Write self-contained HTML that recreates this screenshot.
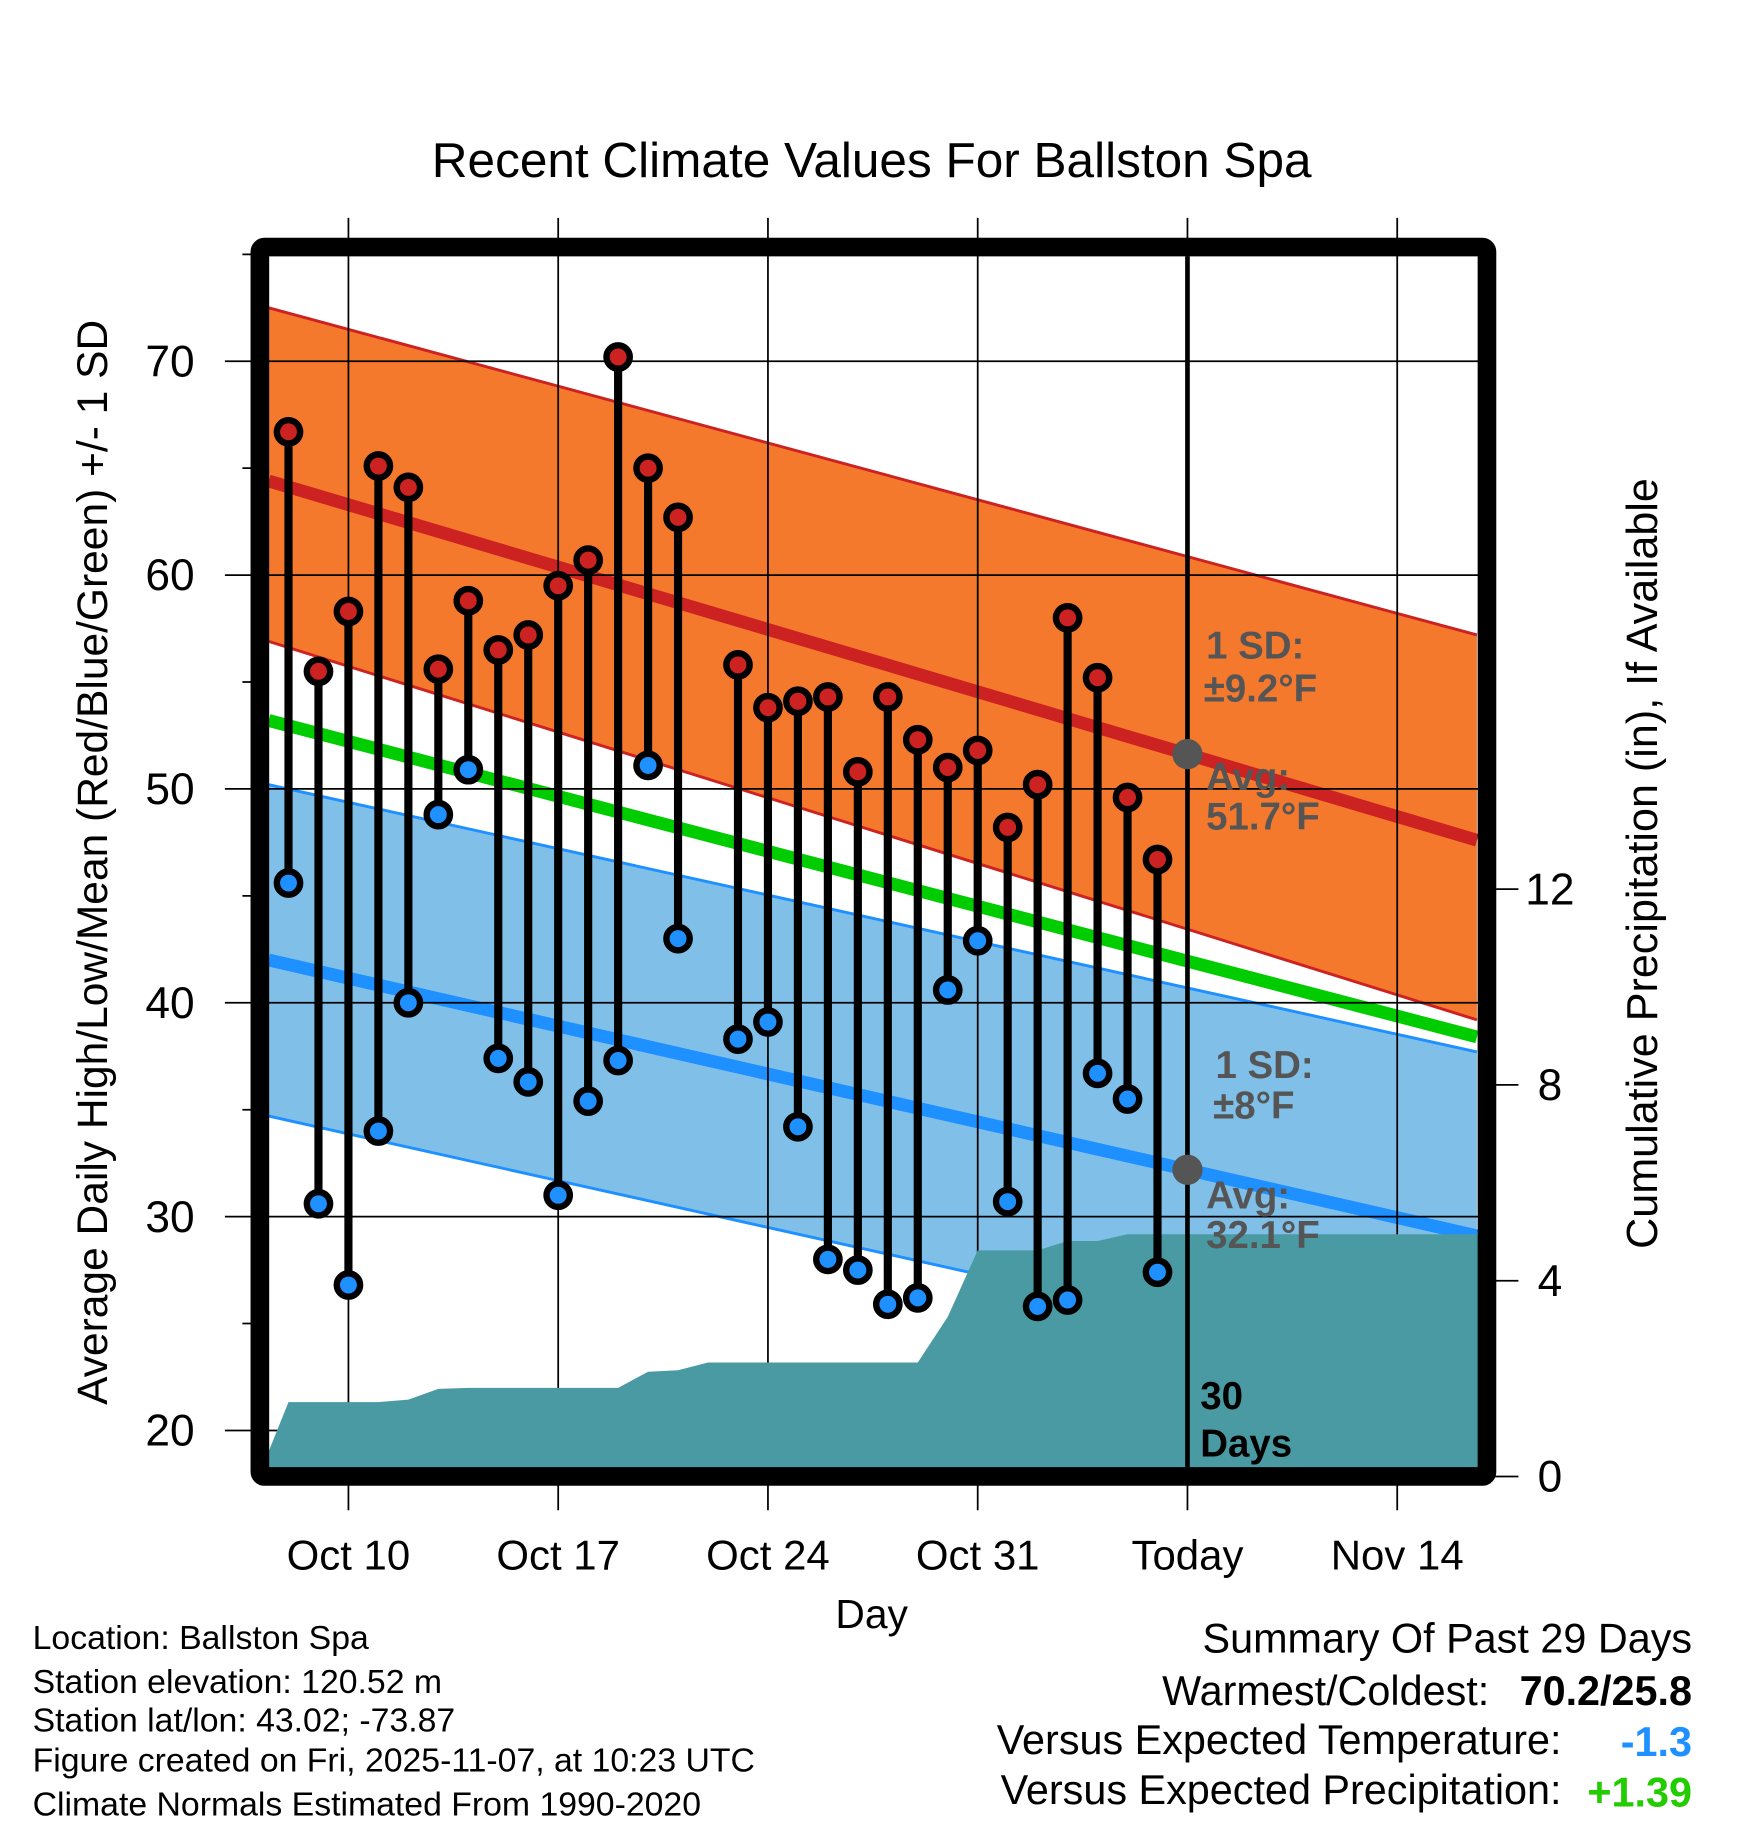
<!DOCTYPE html>
<html><head><meta charset="utf-8"><style>
html,body{margin:0;padding:0;background:#fff}
svg{display:block;font-family:"Liberation Sans",Arial,sans-serif}
</style></head><body>
<svg id="chart" width="1748" height="1828" viewBox="0 0 1500 1568.65" xmlns="http://www.w3.org/2000/svg">
<rect width="1500" height="1568.65" fill="#fff"/>
<text x="748" y="152" font-size="42.5" text-anchor="middle">Recent Climate Values For Ballston Spa</text>
<defs><clipPath id="plotclip"><rect x="223" y="212" width="1053" height="1055"/></clipPath></defs>
<g id="bands" clip-path="url(#plotclip)"></g>
<g id="grid"></g>
<g id="precip" clip-path="url(#plotclip)"></g>
<g id="marks"></g>
<g id="labels"></g>
<rect x="223" y="212" width="1053" height="1055" fill="none" stroke="#000" stroke-width="16" rx="4"/>
<g id="axes"></g>
<text transform="translate(92,740) rotate(-90)" font-size="36.5" text-anchor="middle">Average Daily High/Low/Mean (Red/Blue/Green) +/- 1 SD</text>
<text transform="translate(1422,741) rotate(-90)" font-size="37" text-anchor="middle">Cumulative Precipitation (in), If Available</text>
<text x="748" y="1397" font-size="35" text-anchor="middle">Day</text>
<g font-size="29">
<text x="28" y="1415">Location: Ballston Spa</text>
<text x="28" y="1453">Station elevation: 120.52 m</text>
<text x="28" y="1486">Station lat/lon: 43.02; -73.87</text>
<text x="28" y="1520">Figure created on Fri, 2025-11-07, at 10:23 UTC</text>
<text x="28" y="1558">Climate Normals Estimated From 1990-2020</text>
</g>
<g font-size="35.5">
<text x="1452" y="1418" text-anchor="end">Summary Of Past 29 Days</text>
<text x="1278" y="1463" text-anchor="end">Warmest/Coldest:</text>
<text x="1452" y="1463" text-anchor="end" font-weight="bold">70.2/25.8</text>
<text x="1340" y="1505" text-anchor="end">Versus Expected Temperature:</text>
<text x="1452" y="1507" text-anchor="end" font-weight="bold" fill="#1e90ff">-1.3</text>
<text x="1340" y="1548" text-anchor="end">Versus Expected Precipitation:</text>
<text x="1452" y="1550" text-anchor="end" font-weight="bold" fill="#22cc00">+1.39</text>
</g>
</svg>
<script>
// data: day offsets relative to Oct 10
const days=[-2,-1,0,1,2,3,4,5,6,7,8,9,10,11,13,14,15,16,17,18,19,20,21,22,23,24,25,26,27];
const highs=[66.7,55.5,58.3,65.1,64.1,55.6,58.8,56.5,57.2,59.5,60.7,70.2,65.0,62.7,55.8,53.8,54.1,54.3,50.8,54.3,52.3,51.0,51.8,48.2,50.2,58.0,55.2,49.6,46.7];
const lows=[45.6,30.6,26.8,34.0,40.0,48.8,50.9,37.4,36.3,31.0,35.4,37.3,51.1,43.0,38.3,39.1,34.2,28.0,27.5,25.9,26.2,40.6,42.9,30.7,25.8,26.1,36.7,35.5,27.4];
const precipDays=[-3,-2,-1,0,1,2,3,4,5,6,7,8,9,10,11,12,13,14,15,16,17,18,19,20,21,22,23,24,25,26,27,38];
const precipVals=[0,1.52,1.52,1.52,1.52,1.57,1.79,1.81,1.81,1.81,1.81,1.81,1.81,2.14,2.17,2.33,2.33,2.33,2.33,2.33,2.33,2.33,2.33,3.26,4.62,4.62,4.62,4.81,4.81,4.95,4.95,4.95];
// normals at plot left / right edges
const normEnds=[-2.66,37.66];
const hiMean=[64.4,47.6], hiUp=[72.5,57.2], hiLo=[56.9,39.2];
const avgMean=[53.2,38.4];
const loMean=[42.0,29.1], loUp=[50.2,37.7], loLo=[34.7,22.1];
const yTicks=[20,30,40,50,60,70];
const y2Ticks=[0,4,8,12];
const xTickDays=[0,7,14,21,28,35];
const xTickLabels=["Oct 10","Oct 17","Oct 24","Oct 31","Today","Nov 14"];

const NS="http://www.w3.org/2000/svg";
const X=d=>299+d*25.714;
const Y=t=>310+(70-t)*18.35;
const Y2=p=>1267-p*42;
function mk(parent,tag,attrs){const e=document.createElementNS(NS,tag);for(const k in attrs)e.setAttribute(k,attrs[k]);document.getElementById(parent).appendChild(e);return e;}
function lineAt(arr,d){return arr[0]+(arr[1]-arr[0])*(d-normEnds[0])/(normEnds[1]-normEnds[0]);}
const xl=X(normEnds[0]),xr=X(normEnds[1]);
function band(up,lo,fill,name){
 const e=mk('bands','polygon',{points:`${xl},${Y(up[0])} ${xr},${Y(up[1])} ${xr},${Y(lo[1])} ${xl},${Y(lo[0])}`,fill:fill});
 
 
}
function ln(arr,color,w,name){
 const e=mk('bands','line',{x1:xl,y1:Y(arr[0]),x2:xr,y2:Y(arr[1]),stroke:color,'stroke-width':w});
 
 
}
band(hiUp,hiLo,'#f5792d','high-sd-band');
band(loUp,loLo,'#80c0e8','low-sd-band');
ln(hiUp,'#cc2222',2.5,'high-upper-sd');ln(hiLo,'#cc2222',2.5,'high-lower-sd');
ln(loUp,'#1e90ff',2.5,'low-upper-sd');ln(loLo,'#1e90ff',2.5,'low-lower-sd');
ln(hiMean,'#cc2222',11,'high-mean-line');
ln(avgMean,'#00cc00',11,'mean-line');
ln(loMean,'#1e90ff',11,'low-mean-line');

// grid
yTicks.forEach(t=>{
 const g=mk('grid','line',{x1:193,x2:1276,y1:Y(t),y2:Y(t),stroke:'#000','stroke-width':1.5});
 
 
 const l=mk('axes','text',{x:167,y:Y(t)+13,'font-size':38,'text-anchor':'end'});l.textContent=t;
 
 
 const m=mk('axes','line',{x1:208,x2:223,y1:Y(t+5),y2:Y(t+5),stroke:'#000','stroke-width':1.5});
 
 
});
xTickDays.forEach((d,i)=>{
 const g=mk('grid','line',{x1:X(d),x2:X(d),y1:187,y2:1296,stroke:'#000','stroke-width':1.5});
 
 
 const l=mk('axes','text',{x:X(d),y:1347,'font-size':36,'text-anchor':'middle'});l.textContent=xTickLabels[i];
 
 
});
y2Ticks.forEach(p=>{
 const t=mk('axes','line',{x1:1276,x2:1303,y1:Y2(p),y2:Y2(p),stroke:'#000','stroke-width':1.5});
 
 
 const l=mk('axes','text',{x:1330,y:Y2(p)+13,'font-size':38,'text-anchor':'middle'});l.textContent=p;
 
 
});
// precip
let pts=precipDays.map((d,i)=>`${X(d)},${Y2(precipVals[i])}`);
pts.push(`${X(precipDays[precipDays.length-1])},${Y2(0)}`,`${X(precipDays[0])},${Y2(0)}`);
const pa=mk('precip','polygon',{points:pts.join(' '),fill:'#4a9aa3'});


// today line
const tl=mk('marks','line',{x1:X(28),x2:X(28),y1:220,y2:1260,stroke:'#000','stroke-width':4});


// stems and points
days.forEach((d,i)=>{
 const x=X(d);
 const s=mk('marks','line',{x1:x,x2:x,y1:Y(highs[i]),y2:Y(lows[i]),stroke:'#000','stroke-width':7});
 
 
 const h=mk('marks','circle',{cx:x,cy:Y(highs[i]),r:10,fill:'#cc2222',stroke:'#000','stroke-width':5.5});
 
 
 const l=mk('marks','circle',{cx:x,cy:Y(lows[i]),r:10,fill:'#1e90ff',stroke:'#000','stroke-width':5.5});
 
 
});
const d1=mk('marks','circle',{cx:X(28),cy:Y(lineAt(hiMean,28)),r:13,fill:'#555'});


const d2=mk('marks','circle',{cx:X(28),cy:Y(lineAt(loMean,28)),r:13,fill:'#555'});


// labels
const labs=[["1 SD:",1035,565,'#555'],["±9.2°F",1033,602,'#555'],["Avg:",1035,678,'#555'],["51.7°F",1035,712,'#555'],
["1 SD:",1043,925,'#555'],["±8°F",1041,960,'#555'],["Avg:",1035,1037,'#555'],["32.1°F",1035,1071,'#555'],
["30",1030,1209,'#000'],["Days",1030,1250,'#000']];
labs.forEach(a=>{
 const t=mk('labels','text',{x:a[1],y:a[2],'font-size':33,'font-weight':'bold',fill:a[3]});t.textContent=a[0];
 
 
});
</script>
</body></html>
